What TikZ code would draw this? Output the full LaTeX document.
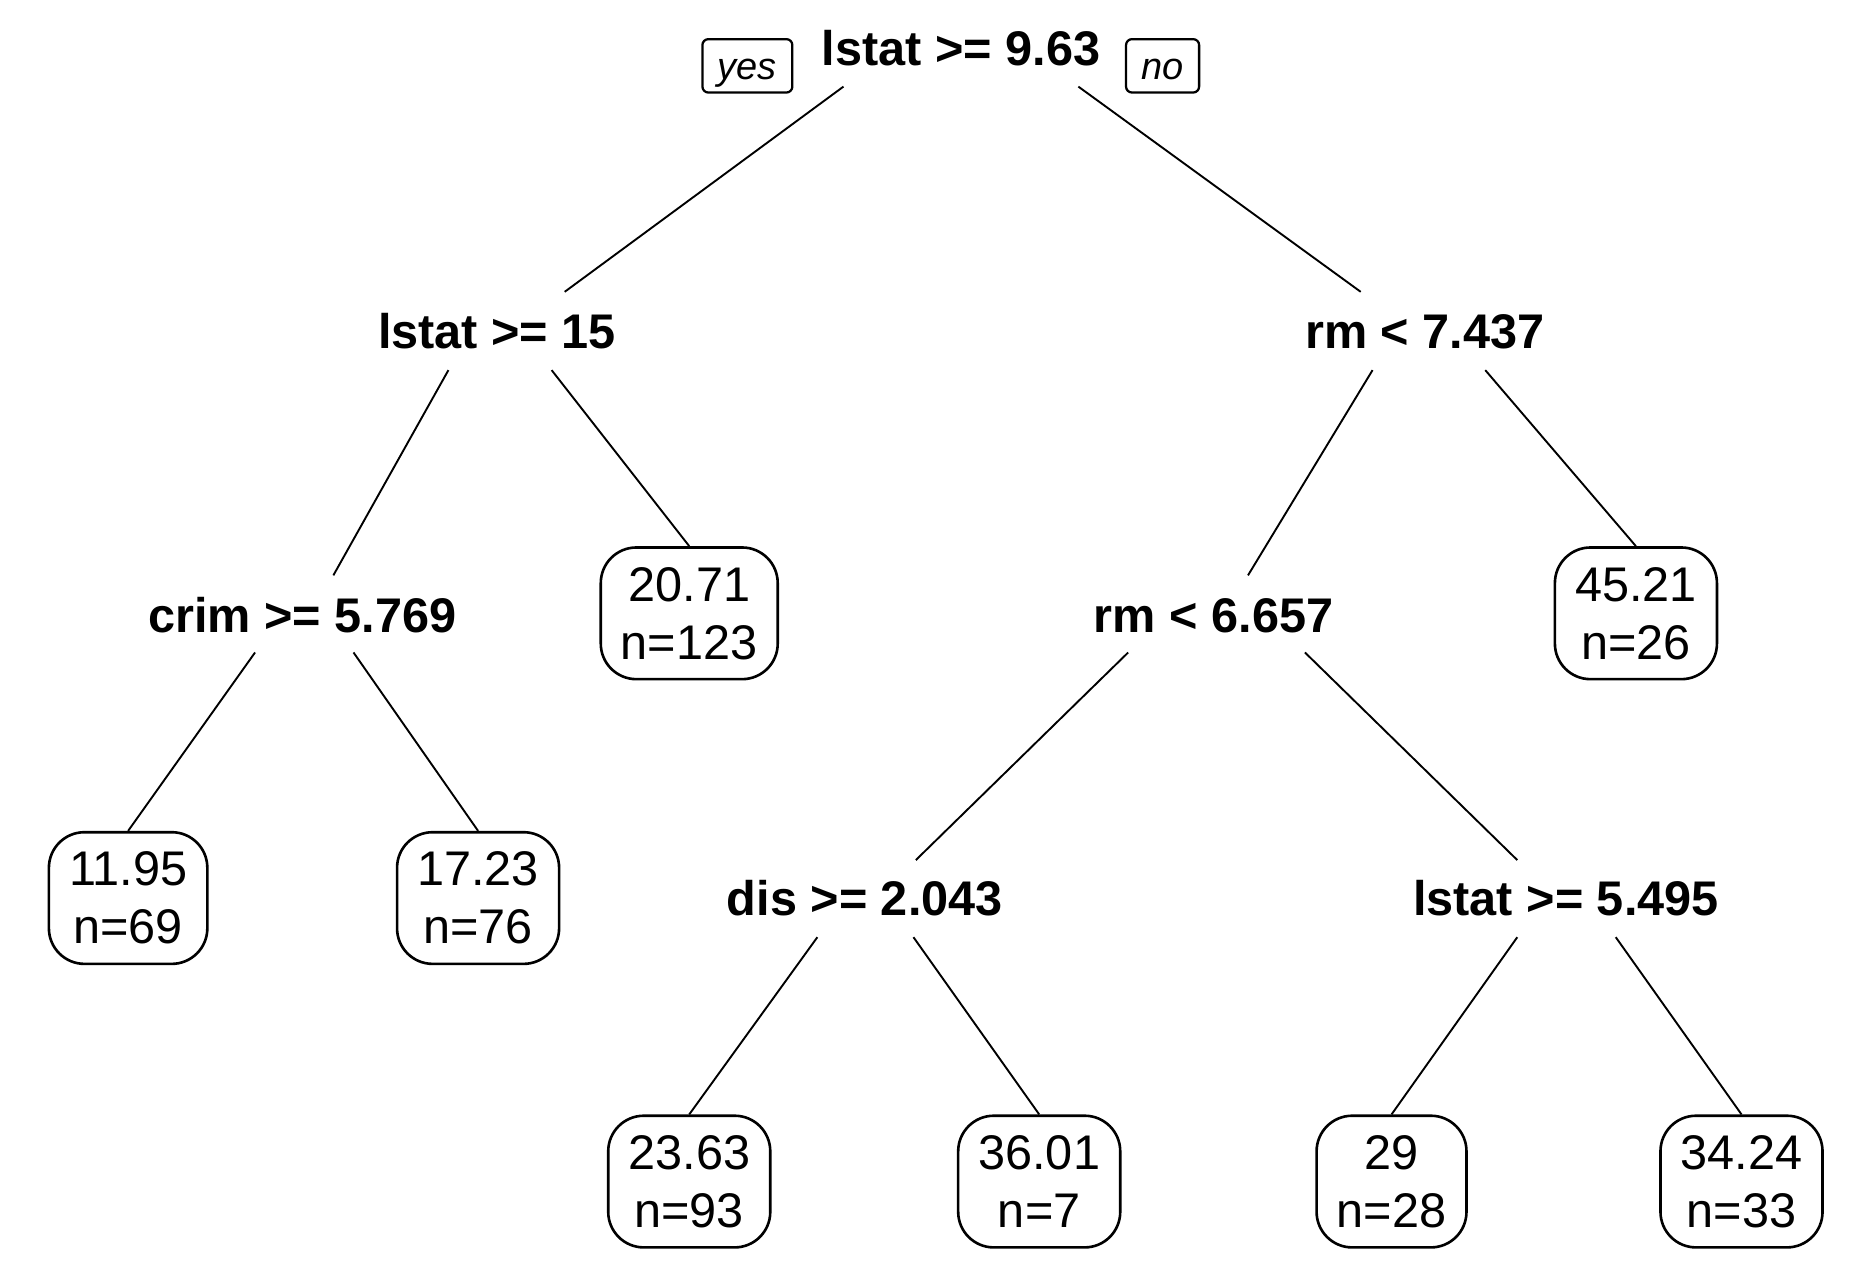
\documentclass[tikz,border=0pt]{standalone}
\usepackage{fontspec}
\setmainfont{Liberation Sans}
\begin{document}
\begin{tikzpicture}[x=1pt,y=-1pt,
  split/.style={font=\fontsize{41}{48}\selectfont\bfseries, inner sep=0pt, anchor=base},
  leaf/.style={draw, line width=2.2pt, rounded corners=30pt, align=center,
    font=\fontsize{41}{49}\selectfont, inner xsep=17pt, inner ysep=0pt, minimum height=111pt},
  tag/.style={draw, line width=1.9pt, rounded corners=5pt, font=\fontsize{32}{32}\selectfont\itshape,
    inner xsep=13pt, inner ysep=0pt, text height=30pt, text depth=7pt, minimum height=45pt},
  edge/.style={line width=1.6pt}]
\useasboundingbox (0,0) rectangle (1562,1081);
% split labels
\node[split] (root) at (810,55) {lstat >= 9.63};
\node[split] (l1) at (419,294) {lstat >= 15};
\node[split] (r1) at (1201,294) {rm < 7.437};
\node[split] (l2) at (255,533) {crim >= 5.769};
\node[split] (r2) at (1023,533) {rm < 6.657};
\node[split] (l3) at (729,772) {dis >= 2.043};
\node[split] (r3) at (1320,772) {lstat >= 5.495};
% yes / no
\node[tag] (yes) at (630,55.5) {yes};
\node[tag] (no) at (980,55.5) {no};
% leaves
\node[leaf] (la) at (581,517) {20.71\\n=123};
\node[leaf] (lb) at (1379,517) {45.21\\n=26};
\node[leaf] (lc) at (108,757) {11.95\\n=69};
\node[leaf] (ld) at (403,757) {17.23\\n=76};
\node[leaf] (le) at (581,996) {23.63\\n=93};
\node[leaf] (lf) at (876,996) {36.01\\n=7};
\node[leaf] (lg) at (1173,996) {29\\n=28};
\node[leaf] (lh) at (1468,996) {34.24\\n=33};
% edges
\draw[edge] ([shift={(-99,18)}]root.base) -- ([shift={(57,-48)}]l1.base);
\draw[edge] ([shift={(99,18)}]root.base) -- ([shift={(-54,-48)}]r1.base);
\draw[edge] ([shift={(-41,18)}]l1.base) -- ([shift={(26,-48)}]l2.base);
\draw[edge] ([shift={(46,18)}]l1.base) -- (la.north);
\draw[edge] ([shift={(-44,18)}]r1.base) -- ([shift={(29,-48)}]r2.base);
\draw[edge] ([shift={(51,18)}]r1.base) -- (lb.north);
\draw[edge] ([shift={(-40,17)}]l2.base) -- (lc.north);
\draw[edge] ([shift={(43,17)}]l2.base) -- (ld.north);
\draw[edge] ([shift={(-72,17)}]r2.base) -- ([shift={(43,-47)}]l3.base);
\draw[edge] ([shift={(77,17)}]r2.base) -- ([shift={(-41,-47)}]r3.base);
\draw[edge] ([shift={(-40,18)}]l3.base) -- (le.north);
\draw[edge] ([shift={(41,18)}]l3.base) -- (lf.north);
\draw[edge] ([shift={(-41,18)}]r3.base) -- (lg.north);
\draw[edge] ([shift={(42,18)}]r3.base) -- (lh.north);
\end{tikzpicture}
\end{document}
